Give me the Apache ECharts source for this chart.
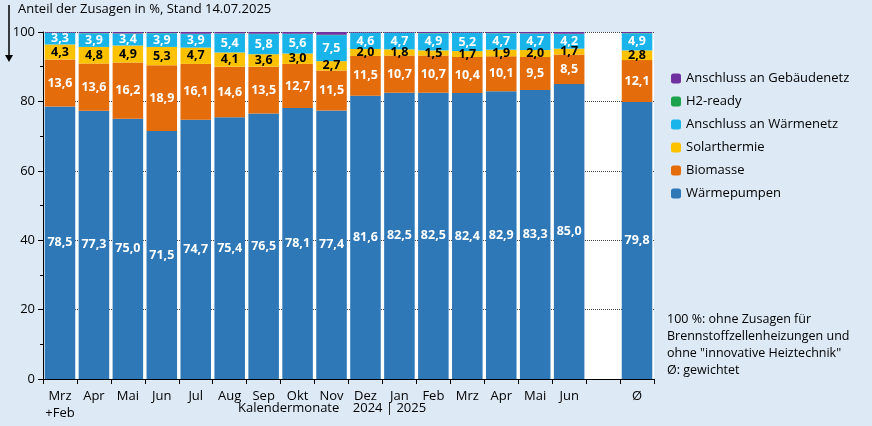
<!DOCTYPE html>
<html>
<head>
<meta charset="utf-8">
<script src="https://cdn.jsdelivr.net/npm/echarts@6/dist/echarts.min.js"></script>
<style>html,body{margin:0;padding:0;background:#dde9f4;}#main{width:872px;height:426px;}</style>
</head>
<body>
<div id="main"></div>
<script>
// Monate (leere Kategorie als Abstand vor dem Durchschnitt)
var categories = ['Mrz\n+Feb', 'Apr', 'Mai', 'Jun', 'Jul', 'Aug', 'Sep', 'Okt', 'Nov', 'Dez', 'Jan', 'Feb', 'Mrz', 'Apr', 'Mai', 'Jun', '', 'Ø'];
var waermepumpen = [78.5, 77.3, 75.0, 71.5, 74.7, 75.4, 76.5, 78.1, 77.4, 81.6, 82.5, 82.5, 82.4, 82.9, 83.3, 85.0, '-', 79.8];
var biomasse = [13.6, 13.6, 16.2, 18.9, 16.1, 14.6, 13.5, 12.7, 11.5, 11.5, 10.7, 10.7, 10.4, 10.1, 9.5, 8.5, '-', 12.1];
var solarthermie = [4.3, 4.8, 4.9, 5.3, 4.7, 4.1, 3.6, 3.0, 2.7, 2.0, 1.8, 1.5, 1.7, 1.9, 2.0, 1.7, '-', 2.8];
var waermenetz = [3.3, 3.9, 3.4, 3.9, 3.9, 5.4, 5.8, 5.6, 7.5, 4.6, 4.7, 4.9, 5.2, 4.7, 4.7, 4.2, '-', 4.9];
var h2ready = [0.1, 0.1, 0.1, 0.1, 0.1, 0.1, 0.1, 0.1, 0.1, 0.1, 0.1, 0.1, 0.1, 0.1, 0.1, 0.1, '-', 0.1];
var gebaeudenetz = [0.2, 0.3, 0.4, 0.3, 0.5, 0.4, 0.5, 0.5, 0.8, 0.2, 0.2, 0.3, 0.2, 0.3, 0.4, 0.5, '-', 0.3];
var yTicks = [0, 20, 40, 60, 80, 100];

var chart = echarts.init(document.getElementById('main'));
var fmt = function (p) { return typeof p.value === 'number' ? p.value.toFixed(1).replace('.', ',') : ''; };

function serie(name, data, color, labelColor) {
    return {
        name: name, type: 'bar', stack: 'a', data: data, barCategoryGap: '10%',
        itemStyle: { color: color },
        label: labelColor ? { show: true, color: labelColor, fontWeight: 'bold', fontSize: 12.5, formatter: fmt } : { show: false }
    };
}

chart.setOption({
    backgroundColor: '#dde9f4',
    textStyle: { fontFamily: 'Open Sans, sans-serif' },
    animation: false,
    grid: { left: 43, right: 218, top: 32, bottom: 47, show: true, backgroundColor: '#fff', borderWidth: 0 },
    legend: {
        orient: 'vertical', left: 666, top: 67, itemWidth: 10, itemHeight: 10, itemGap: 10,
        textStyle: { fontSize: 13, color: '#000' },
        data: ['Anschluss an Gebäudenetz', 'H2-ready', 'Anschluss an Wärmenetz', 'Solarthermie', 'Biomasse', 'Wärmepumpen']
    },
    xAxis: {
        type: 'category', data: categories,
        axisLine: { lineStyle: { color: '#000' } },
        axisTick: { show: true, length: 5, lineStyle: { color: '#000' } },
        axisLabel: { color: '#000', fontSize: 13, margin: 9, lineHeight: 17, interval: 0 }
    },
    yAxis: {
        type: 'value', min: 0, max: 100, interval: 20,
        axisLine: { show: true, lineStyle: { color: '#000' } },
        axisTick: { show: true, length: 5, lineStyle: { color: '#000' } },
        minorTick: { show: true, splitNumber: 2, length: 3, lineStyle: { color: '#000' } },
        axisLabel: { color: '#000', fontSize: 13, formatter: function (v) { return yTicks.indexOf(v) >= 0 ? v : ''; } },
        splitLine: { show: true, lineStyle: { color: '#444', type: 'dotted' } }
    },
    series: [
        serie('Wärmepumpen', waermepumpen, '#2e78b7', '#fff'),
        serie('Biomasse', biomasse, '#e46c0a', '#fff'),
        serie('Solarthermie', solarthermie, '#fcc200', '#000'),
        serie('Anschluss an Wärmenetz', waermenetz, '#19b4ea', '#fff'),
        serie('H2-ready', h2ready, '#1aa34a', null),
        serie('Anschluss an Gebäudenetz', gebaeudenetz, '#7030a0', null)
    ],
    graphic: [
        { type: 'line', shape: { x1: 9, y1: 5, x2: 9, y2: 58 }, style: { stroke: '#000', lineWidth: 1.5 } },
        { type: 'polygon', shape: { points: [[5, 55], [13, 55], [9, 62]] }, style: { fill: '#000' } },
        { type: 'text', left: 18, top: 3, style: { text: 'Anteil der Zusagen in %, Stand 14.07.2025', fontSize: 13, fill: '#000', fontFamily: 'Open Sans, sans-serif' } },
        { type: 'text', left: 238, top: 402, style: { text: 'Kalendermonate    2024 | 2025', fontSize: 13, fill: '#000', fontFamily: 'Open Sans, sans-serif' } },
        { type: 'text', left: 667, top: 311, style: { text: '100 %: ohne Zusagen für\nBrennstoffzellenheizungen und\nohne "innovative Heiztechnik"\nØ: gewichtet', fontSize: 12.5, lineHeight: 17, fill: '#000', fontFamily: 'Open Sans, sans-serif' } }
    ]
});
</script>
</body>
</html>
